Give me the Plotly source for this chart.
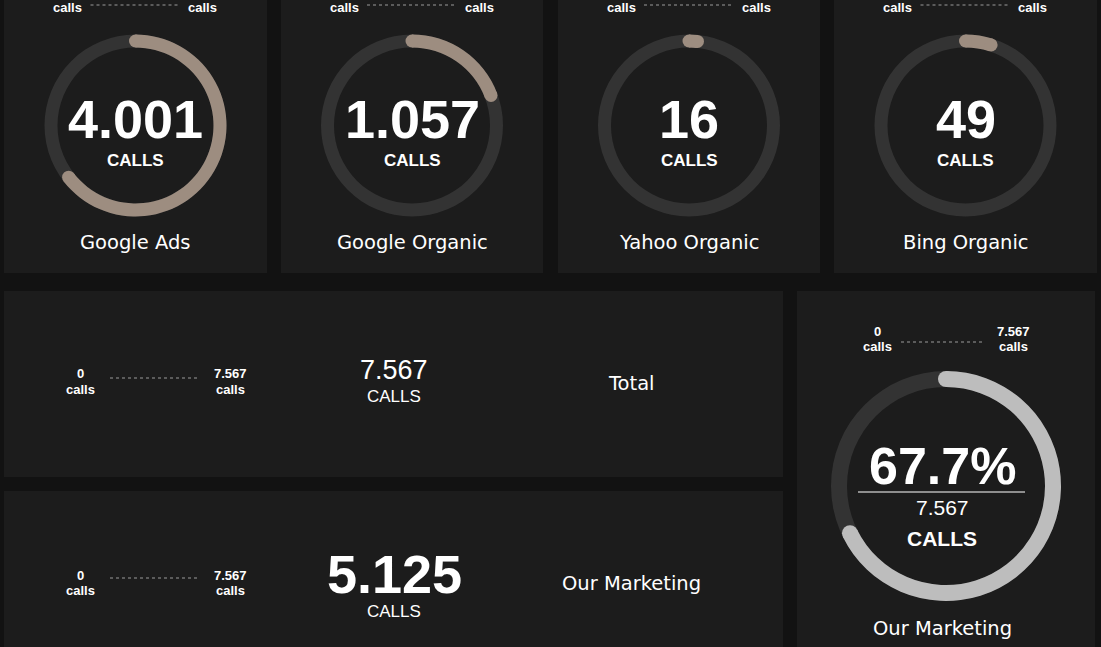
import plotly.graph_objects as go

# ---------------- data ----------------
sources = ["Google Ads", "Google Organic", "Yahoo Organic", "Bing Organic"]
source_calls = [4001, 1057, 16, 49]
# gauge maxima of the top cards (their labels are scrolled off; estimated from arc lengths)
source_gauge_max = [6200, 5500, 1000, 1000]
range_min = 0
total_calls = 7567
marketing_calls = 5125
total_label = "Total"
marketing_label = "Our Marketing"
unit_upper = "CALLS"
unit_lower = "calls"

# ---------------- styling ----------------
W, H = 1101, 647
PAGE_BG = "#121212"
CARD_BG = "#1c1c1c"
RING_BG = "#333333"
ARC_TOP = "#9d8d80"
ARC_BIG = "#bdbdbd"
WHITE = "#ffffff"
NUM_FONT = "Liberation Sans"
LBL_FONT = "DejaVu Sans"


def fmt(v):
    return f"{v:,}".replace(",", ".")


def px(x):
    return x / W


def py(y):
    return 1 - y / H


fig = go.Figure()
shapes = []
annotations = []


def card(x0, y0, x1, y1):
    shapes.append(dict(type="rect", xref="paper", yref="paper", x0=px(x0), x1=px(x1),
                       y0=py(y1), y1=py(y0), fillcolor=CARD_BG, line=dict(width=0),
                       layer="below"))


def text(x, y, s, size, bold=False, family=NUM_FONT, color=WHITE):
    if bold:
        s = f"<b>{s}</b>"
    annotations.append(dict(x=px(x), y=py(y), xref="paper", yref="paper", text=s,
                            showarrow=False, xanchor="center", yanchor="middle",
                            font=dict(family=family, size=size, color=color)))


def dotted(x0, x1, y):
    shapes.append(dict(type="line", xref="paper", yref="paper", x0=px(x0), x1=px(x1),
                       y0=py(y), y1=py(y), line=dict(color="#9a9a9a", width=1.1, dash="dot")))


def range_labels(cx_left, cx_right, y_num, y_unit, y_line, lo, hi, gap_l, gap_r,
                 show_num=True):
    if show_num:
        text(cx_left, y_num, fmt(lo), 13, bold=True)
        text(cx_right, y_num, fmt(hi), 13, bold=True)
    text(cx_left, y_unit, unit_lower, 13, bold=True)
    text(cx_right, y_unit, unit_lower, 13, bold=True)
    dotted(cx_left + gap_l, cx_right - gap_r, y_line)


polar_layouts = {}


def donut(idx, cx, cy, half, r_in, thick, frac, color):
    key = "polar" if idx == 1 else f"polar{idx}"
    polar_layouts[key] = dict(
        domain=dict(x=[px(cx - half), px(cx + half)], y=[py(cy + half), py(cy - half)]),
        bgcolor="rgba(0,0,0,0)", barmode="overlay", hole=0,
        angularaxis=dict(visible=False, rotation=90, direction="clockwise",
                         showgrid=False, showline=False, showticklabels=False, ticks=""),
        radialaxis=dict(visible=False, range=[0, half], showgrid=False, showline=False,
                        showticklabels=False, ticks=""),
    )
    # background ring
    fig.add_trace(go.Barpolar(r=[thick], base=[r_in], theta=[180], width=[360],
                              marker=dict(color=RING_BG, line=dict(width=0)),
                              subplot=key, hoverinfo="skip", showlegend=False))
    span = frac * 360
    fig.add_trace(go.Barpolar(r=[thick], base=[r_in], theta=[span / 2], width=[span],
                              marker=dict(color=color, line=dict(width=0)),
                              subplot=key, hoverinfo="skip", showlegend=False))
    # rounded caps
    fig.add_trace(go.Scatterpolar(r=[r_in + thick / 2] * 2, theta=[0, span], mode="markers",
                                  marker=dict(size=thick, color=color, line=dict(width=0)),
                                  subplot=key, hoverinfo="skip", showlegend=False,
                                  cliponaxis=False))


# ---------------- top cards ----------------
top_cards = [(4, 267), (281, 543), (558, 820), (834, 1097)]
for i, (name, val, gmax) in enumerate(zip(sources, source_calls, source_gauge_max)):
    x0, x1 = top_cards[i]
    card(x0, -10, x1, 273)
    cx = (x0 + x1) / 2
    range_labels(cx - 68, cx + 67, -8, 8, 5, range_min, gmax, 23, 25, show_num=False)
    donut(i + 1, cx, 125.5, 100, 78, 13, (val - range_min) / (gmax - range_min), ARC_TOP)
    text(cx, 119, fmt(val), 54, bold=True)
    text(cx, 161, unit_upper, 17, bold=True)
    text(cx, 243, name, 19.5, family=LBL_FONT)

# ---------------- total card ----------------
card(4, 291, 783, 477)
range_labels(80, 230, 374, 389, 378, range_min, total_calls, 30, 33)
text(394, 370, fmt(total_calls), 27)
text(394, 396, unit_upper, 17)
text(631, 383, total_label, 19.5, family=LBL_FONT)

# ---------------- our marketing card ----------------
card(4, 491, 783, 660)
range_labels(80, 230, 575, 590, 578, range_min, total_calls, 30, 33)
text(394, 574, fmt(marketing_calls), 54, bold=True)
text(394, 611, unit_upper, 17)
text(631, 583, marketing_label, 19.5, family=LBL_FONT)

# ---------------- right gauge card ----------------
card(797, 291, 1095, 660)
range_labels(877, 1013, 331, 346, 342, range_min, total_calls, 24, 28)
share = marketing_calls / total_calls
donut(5, 946, 486, 125, 99, 16, share, ARC_BIG)
text(942, 466, f"{share * 100:.1f}%", 52, bold=True)
shapes.append(dict(type="line", xref="paper", yref="paper", x0=px(858), x1=px(1025),
                   y0=py(492), y1=py(492), line=dict(color=WHITE, width=1.2)))
text(942, 507, fmt(total_calls), 21)
text(942, 538, unit_upper, 21, bold=True)
text(942, 628, marketing_label, 19.5, family=LBL_FONT)

fig.update_layout(
    width=W, height=H, margin=dict(l=0, r=0, t=0, b=0),
    paper_bgcolor=PAGE_BG, plot_bgcolor=PAGE_BG,
    shapes=shapes, annotations=annotations, showlegend=False,
    **polar_layouts,
)

fig.write_html(
    "out.html",
    config={"displayModeBar": False},
    post_script="document.body.style.margin='0';document.body.style.overflow='hidden';"
                "document.body.style.background='#121212';",
)
